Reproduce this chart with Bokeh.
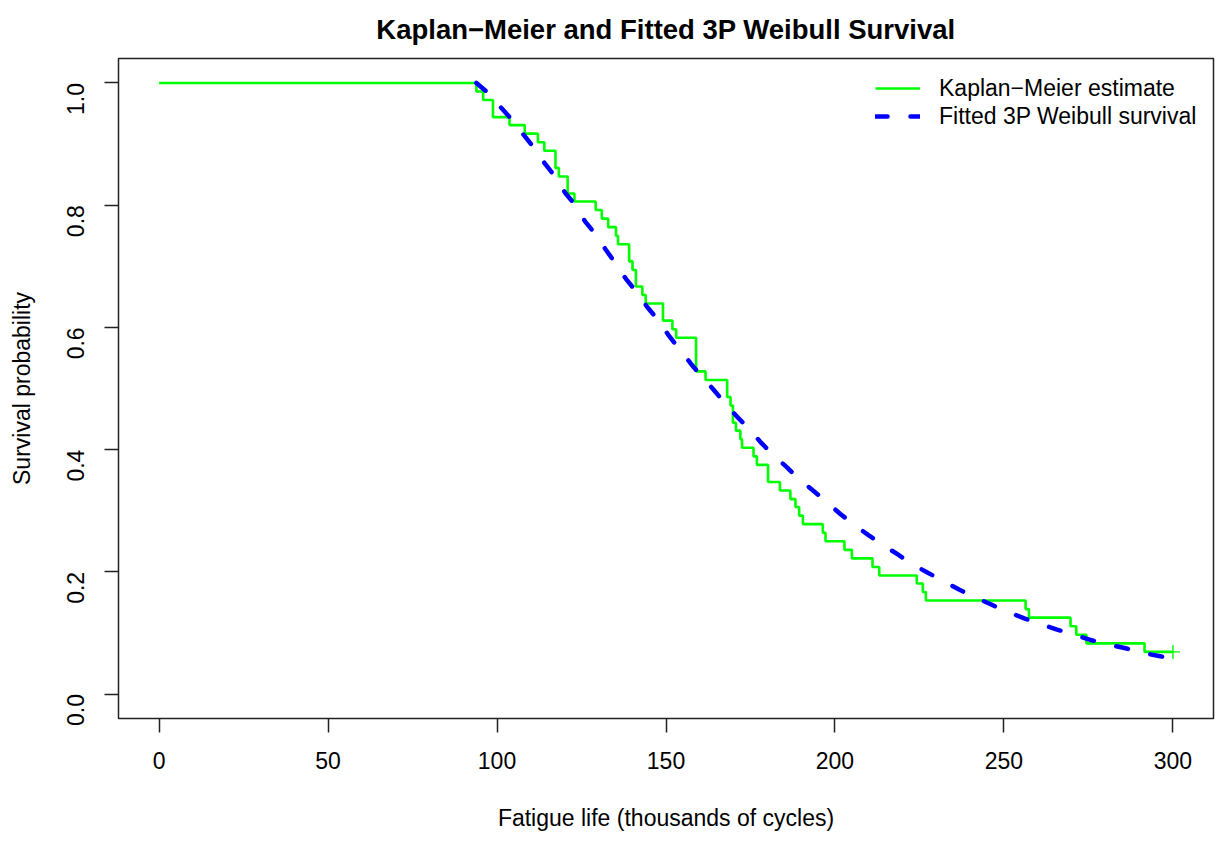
import math
from bokeh.plotting import figure
from bokeh.models import Range1d, Legend, LegendItem, NumeralTickFormatter, FixedTicker
from bokeh.embed import file_html
from bokeh.resources import INLINE

# Kaplan-Meier step function (time of drop, survival after drop)
km_time = [0.0, 93.9, 95.9, 98.8, 103.7, 108.2, 112.1, 114.0, 117.3, 118.3, 120.9,
           122.9, 129.2, 131.0, 132.9, 135.2, 135.8, 139.1, 140.1, 141.1, 143.0,
           144.0, 149.1, 151.9, 153.0, 158.9, 161.7, 168.1, 169.1, 169.8, 170.7,
           172.0, 172.5, 175.9, 176.9, 180.2, 183.7, 186.8, 188.3, 189.4, 190.5,
           196.4, 197.2, 202.8, 205.0, 211.1, 213.1, 224.2, 226.0, 226.9, 256.4,
           257.4, 269.7, 271.4, 274.4, 291.6, 300.0]
km_surv = [1.000, 0.986, 0.972, 0.944, 0.931, 0.917, 0.903, 0.889, 0.861, 0.847, 0.819,
           0.806, 0.792, 0.778, 0.764, 0.750, 0.736, 0.708, 0.694, 0.667, 0.653,
           0.639, 0.611, 0.597, 0.583, 0.528, 0.514, 0.486, 0.472, 0.444, 0.431,
           0.417, 0.403, 0.389, 0.375, 0.347, 0.333, 0.319, 0.306, 0.292, 0.278,
           0.264, 0.250, 0.236, 0.222, 0.208, 0.194, 0.181, 0.167, 0.153, 0.139,
           0.125, 0.111, 0.097, 0.083, 0.069, 0.069]

# censored observation mark
cens_time = [300.0]
cens_surv = [0.069]

# Fitted 3-parameter Weibull survival curve
wb_time = [93.9, 97.3, 101.3, 104.2, 107.9, 110.6, 114.3, 117.0, 120.2, 122.9, 126.1,
           128.9, 132.2, 134.9, 138.2, 141.0, 144.5, 147.5, 150.9, 153.6, 157.3,
           160.2, 164.1, 167.1, 171.0, 174.0, 178.2, 181.2, 185.8, 188.7, 193.5,
           196.8, 201.5, 205.0, 209.9, 213.4, 218.7, 222.1, 227.6, 231.4, 236.7,
           240.7, 246.1, 250.3, 256.0, 259.9, 265.5, 270.2, 276.0, 280.2, 286.0,
           290.3, 296.2, 300.0]
wb_surv = [1.000, 0.984, 0.959, 0.941, 0.915, 0.896, 0.867, 0.848, 0.820, 0.802, 0.773,
           0.754, 0.727, 0.706, 0.679, 0.660, 0.633, 0.613, 0.586, 0.567, 0.541,
           0.522, 0.498, 0.478, 0.454, 0.437, 0.411, 0.394, 0.371, 0.355, 0.333,
           0.318, 0.295, 0.280, 0.260, 0.247, 0.228, 0.215, 0.198, 0.187, 0.171,
           0.160, 0.147, 0.136, 0.124, 0.116, 0.106, 0.098, 0.088, 0.082, 0.075,
           0.068, 0.062, 0.057]

x_ticks = [0, 50, 100, 150, 200, 250, 300]
y_ticks = [0.0, 0.2, 0.4, 0.6, 0.8, 1.0]

title_text = "Kaplan\u2212Meier and Fitted 3P Weibull Survival"
x_label = "Fatigue life (thousands of cycles)"
y_label = "Survival probability"
legend_labels = ["Kaplan\u2212Meier estimate", "Fitted 3P Weibull survival"]

FONT = "Liberation Sans"

p = figure(width=1220, height=833, output_backend="svg", toolbar_location=None,
           x_range=Range1d(-12, 312), y_range=Range1d(-0.04, 1.04),
           min_border_left=118, min_border_right=7, min_border_top=57,
           min_border_bottom=115, title=title_text)

p.background_fill_color = "white"
p.border_fill_color = "white"
p.outline_line_color = "#222222"
p.outline_line_width = 1.5
p.grid.visible = False

p.title.align = "center"
p.title.vertical_align = "middle"
p.title.text_font = FONT
p.title.text_font_size = "27.5px"
p.title.text_font_style = "bold"
p.title.text_color = "black"
p.title.standoff = 25

for ax in (p.xaxis, p.yaxis):
    ax.axis_line_color = None
    ax.major_tick_out = 14
    ax.major_tick_in = 0
    ax.major_tick_line_width = 1.5
    ax.major_tick_line_color = "#222222"
    ax.minor_tick_line_color = None
    ax.major_label_text_font = FONT
    ax.major_label_text_font_size = "23px"
    ax.major_label_text_color = "black"
    ax.axis_label_text_font = FONT
    ax.axis_label_text_font_size = "23px"
    ax.axis_label_text_font_style = "normal"
    ax.axis_label_text_color = "black"

p.xaxis.ticker = FixedTicker(ticks=x_ticks)
p.yaxis.ticker = FixedTicker(ticks=y_ticks)
p.yaxis.formatter = NumeralTickFormatter(format="0.0")
p.yaxis.major_label_orientation = math.pi / 2
p.xaxis.axis_label = x_label
p.yaxis.axis_label = y_label
p.xaxis.major_label_standoff = 19
p.xaxis.axis_label_standoff = 33
p.yaxis.major_label_standoff = 29
p.yaxis.axis_label_standoff = 21

km = p.step(km_time, km_surv, mode="after", line_color="#00FF00", line_width=2.6)
p.scatter(cens_time, cens_surv, marker="cross", size=14, line_color="#00FF00",
          line_width=1.4)
wb = p.line(wb_time, wb_surv, line_color="#0000FF", line_width=4.5,
            line_dash="12 23", line_cap="round")

legend = Legend(items=[LegendItem(label=legend_labels[0], renderers=[km]),
                       LegendItem(label=legend_labels[1], renderers=[wb])],
                location=(757, 588))
legend.border_line_color = None
legend.background_fill_alpha = 0
legend.padding = 0
legend.margin = 0
legend.spacing = 0
legend.glyph_width = 45
legend.glyph_height = 28
legend.label_height = 28
legend.label_standoff = 19
legend.label_text_font = FONT
legend.label_text_font_size = "23px"
legend.label_text_color = "black"
p.add_layout(legend)

open("out.html", "w").write(file_html(p, INLINE))
